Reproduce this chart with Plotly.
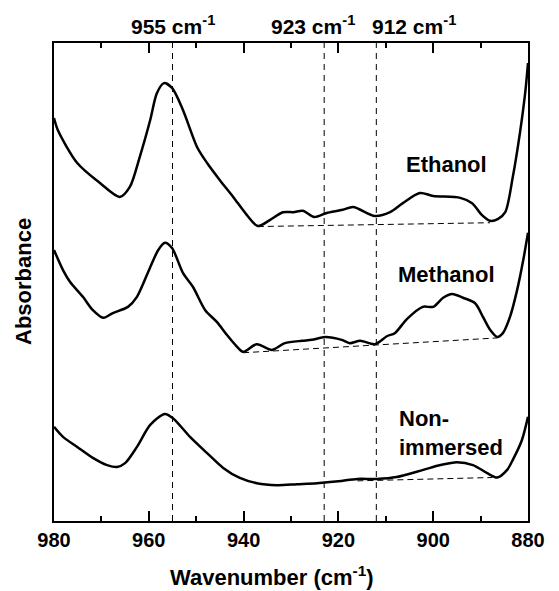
import plotly.graph_objects as go

# ---------------- data (wavenumber in cm-1, absorbance in arbitrary offset units) -------------
eth_wn = [980, 979.2, 975.1, 970.3, 966.1, 964.0, 961.9, 959.7, 958.3, 956.8, 955.1, 952.8,
          949.8, 947.7, 945.0, 942.2, 939.3, 937.0, 934.4, 931.7, 929.5, 927.5, 925.1, 922.6,
          919.1, 916.9, 912.3, 909.1, 906.4, 902.8, 900.0, 894.3, 891.8, 889.7, 888.0, 886.3,
          884.8, 883.2, 881.7, 880.6, 880.0]
eth_abs = [84.3, 81.8, 74.9, 70.7, 67.8, 69.9, 76.2, 83.9, 89.5, 91.6, 90.6, 86.0,
           78.2, 74.9, 71.3, 67.8, 64.0, 61.7, 63.0, 64.6, 64.6, 64.9, 63.6, 64.4,
           65.1, 65.7, 63.8, 64.6, 66.5, 68.6, 68.0, 67.6, 66.5, 64.0, 62.8, 63.2,
           64.6, 72.0, 81.2, 89.5, 95.8]

met_wn = [980, 978.1, 976.6, 973.9, 971.8, 969.6, 967.6, 964.4, 962.5, 959.7, 958.0, 956.6,
          955.1, 952.8, 950.7, 948.1, 945.6, 943.5, 941.7, 940.1, 937.2, 934.0, 931.3, 927.7,
          925.6, 922.8, 919.3, 917.6, 915.4, 912.3, 909.7, 908.1, 905.5, 902.2, 900.0, 897.9,
          896.0, 893.7, 891.2, 889.5, 888.0, 886.5, 885.3, 883.8, 882.3, 881.0, 880.0]
met_abs = [56.7, 52.5, 50.0, 46.9, 44.1, 42.5, 43.5, 44.8, 46.9, 53.1, 56.7, 58.2,
           57.1, 51.9, 49.0, 44.1, 41.6, 38.9, 36.8, 35.4, 37.0, 35.8, 37.2, 37.7,
           37.9, 38.5, 37.9, 37.2, 37.7, 37.0, 38.7, 39.3, 42.3, 44.8, 44.8, 46.7,
           47.5, 46.7, 45.6, 42.7, 40.0, 38.5, 39.3, 42.7, 48.3, 54.6, 60.3]

non_wn = [980, 978.1, 975.1, 971.8, 968.8, 966.7, 965.0, 962.5, 959.7, 956.6, 954.9, 951.3,
          947.7, 944.3, 940.8, 937.2, 933.0, 928.7, 924.5, 920.0, 916.0, 911.9, 907.7, 902.1,
          898.5, 895.0, 891.6, 888.6, 886.5, 884.4, 883.2, 881.3, 880.0]
non_abs = [19.7, 17.6, 15.5, 13.2, 11.7, 11.3, 12.1, 15.5, 20.1, 22.4, 21.5, 17.6,
           14.2, 11.1, 9.0, 7.9, 7.5, 7.7, 7.9, 8.3, 8.8, 8.8, 9.2, 10.7,
           11.7, 12.3, 11.7, 10.0, 9.1, 10.7, 12.8, 16.9, 21.8]

# baselines (two end points each)
eth_base_wn, eth_base_abs = [937.0, 888.0], [61.6, 62.4]
met_base_wn, met_base_abs = [940.1, 886.5], [35.2, 38.3]
non_base_wn, non_base_abs = [916.0, 887.5], [8.4, 9.1]

marker_wn = [955, 923, 912]
marker_labels = ["955 cm<sup>-1</sup>", "923 cm<sup>-1</sup>", "912 cm<sup>-1</sup>"]
tick_vals = [980, 960, 940, 920, 900, 880]
minor_vals = [970, 950, 930, 910, 890]

FONT = "Arial, 'Liberation Sans', sans-serif"

fig = go.Figure()

for wn, ab in [(eth_base_wn, eth_base_abs), (met_base_wn, met_base_abs), (non_base_wn, non_base_abs)]:
    fig.add_trace(go.Scatter(x=wn, y=ab, mode="lines",
                             line=dict(color="black", width=1, dash="6px,4px"),
                             hoverinfo="skip", showlegend=False))

for wn, ab in [(eth_wn, eth_abs), (met_wn, met_abs), (non_wn, non_abs)]:
    fig.add_trace(go.Scatter(x=wn, y=ab, mode="lines",
                             line=dict(color="black", width=2.5, shape="spline", smoothing=0.8),
                             showlegend=False))

# invisible trace to activate the top axis
fig.add_trace(go.Scatter(x=[980, 880], y=[0, 0], xaxis="x2", mode="lines",
                         line=dict(width=0), hoverinfo="skip", showlegend=False))

for w in marker_wn:
    fig.add_shape(type="line", xref="x", yref="paper", x0=w, x1=w, y0=0, y1=1,
                  line=dict(color="black", width=1, dash="6px,5px"))

# top labels
shifts = [0, -11, 38]
for w, lab, s in zip(marker_wn, marker_labels, shifts):
    fig.add_annotation(x=w, y=1, xref="x", yref="paper", text="<b>" + lab + "</b>",
                       showarrow=False, xanchor="center", yanchor="middle", yshift=18, xshift=s,
                       font=dict(family=FONT, size=21, color="black"))

# curve labels
fig.add_annotation(x=897.1, y=74.5, text="<b>Ethanol</b>", showarrow=False,
                   xanchor="center", yanchor="middle", font=dict(family=FONT, size=22, color="black"))
fig.add_annotation(x=897.1, y=51.5, text="<b>Methanol</b>", showarrow=False,
                   xanchor="center", yanchor="middle", font=dict(family=FONT, size=22, color="black"))
fig.add_annotation(x=907.6, y=18.4, text="<b>Non-<br>immersed</b>", showarrow=False, align="left",
                   xanchor="left", yanchor="middle", font=dict(family=FONT, size=22, color="black"))

# axis titles
fig.add_annotation(x=0, y=0.5, xref="paper", yref="paper", text="<b>Absorbance</b>", textangle=-90,
                   showarrow=False, xanchor="center", yanchor="middle", xshift=-31,
                   font=dict(family=FONT, size=22, color="black"))
fig.add_annotation(x=0.46, y=0, xref="paper", yref="paper", text="<b>Wavenumber (cm<sup>-1</sup>)</b>",
                   showarrow=False, xanchor="center", yanchor="middle", yshift=-55,
                   font=dict(family=FONT, size=22, color="black"))

fig.update_layout(
    width=559, height=591,
    margin=dict(l=54, r=31, t=43, b=70),
    plot_bgcolor="white", paper_bgcolor="white",
    xaxis=dict(range=[980, 880], tickvals=tick_vals, ticks="inside", ticklen=10, tickwidth=2,
               tickcolor="black", showline=True, linewidth=2, linecolor="black", mirror=True,
               showgrid=False, zeroline=False,
               tickfont=dict(family=FONT, size=20, color="black", weight="bold"),
               minor=dict(ticks="inside", ticklen=5, tickwidth=2, tickcolor="black",
                          tickvals=minor_vals, showgrid=False)),
    xaxis2=dict(range=[980, 880], overlaying="x", side="top", tickvals=tick_vals,
                ticks="inside", ticklen=10, tickwidth=2, tickcolor="black",
                showticklabels=False, showline=False, showgrid=False, zeroline=False,
                minor=dict(ticks="inside", ticklen=5, tickwidth=2, tickcolor="black",
                           tickvals=minor_vals, showgrid=False)),
    yaxis=dict(range=[0, 100], showticklabels=False, ticks="", showline=True, linewidth=2,
               linecolor="black", mirror=True, showgrid=False, zeroline=False),
)

fig.write_html("out.html")
